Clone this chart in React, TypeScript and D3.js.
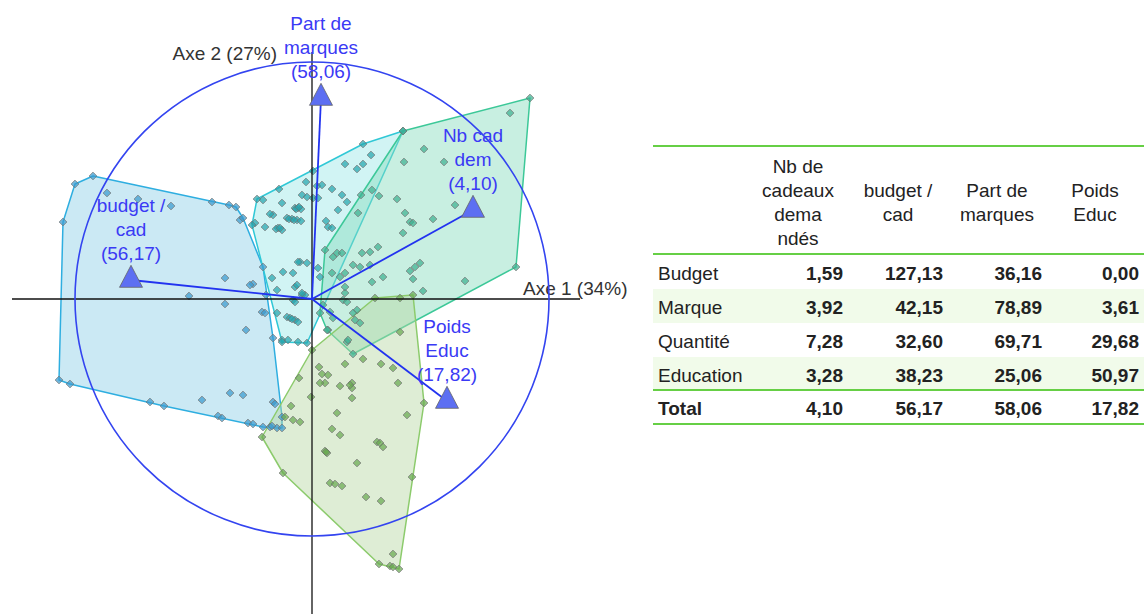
import React from "react";
import * as d3 from "d3";

type P = [number, number];

// Factor scores (unit = 1/23.7 of the correlation circle radius)
const budgetPts: P[] = [
  [-23.7, 11.5], [-21.9, 12.3], [-20.5, 10.6], [-17.4, 10.0], [-14.1, 9.3], [-10.0, 9.7],
  [-8.3, 9.4], [-7.6, 9.2], [-7.2, 7.9], [-6.9, 8.1], [-24.9, 7.7], [-4.9, 3.2], [-8.7, 2.1],
  [-5.9, 1.5], [-12.3, 0.3], [-8.7, -0.5], [-5.0, -1.3], [-4.7, -1.4], [-6.6, -3.1],
  [-3.9, -3.9], [-25.3, -8.1], [-24.2, -8.5], [-16.2, -10.3], [-14.8, -10.7], [-11.0, -10.1],
  [-8.2, -9.4], [-6.9, -9.6], [-9.4, -11.7], [-9.0, -11.9], [-6.4, -12.4], [-5.9, -12.5],
  [-4.9, -12.8], [-4.2, -12.8], [-3.5, -12.9], [-3.0, -12.9], [-3.9, -10.3], [-3.0, -11.8],
  [-4.6, 0.4], [-6.2, 1.4], [-3.7, -10.5], [-4.0, -12.7],
];

const marquePts: P[] = [
  [9.1, 16.8], [5.1, 15.5], [5.9, 14.4], [3.3, 13.5], [5.1, 13.5], [0.1, 12.8], [-0.6, 11.7],
  [-3.3, 11.0], [0.5, 11.3], [2.0, 11.0], [3.0, 10.4], [3.5, 9.7], [-5.5, 10.0], [-4.9, 9.9],
  [-3.0, 9.6], [-1.0, 10.4], [-0.5, 10.2], [0.1, 10.1], [0.6, 10.1], [-1.7, 9.1], [-1.4, 9.1],
  [-1.1, 9.0], [-3.9, 8.4], [-4.2, 8.5], [-2.5, 8.1], [-2.0, 8.0], [-1.5, 7.9], [-1.1, 7.8],
  [-5.7, 7.6], [-4.7, 7.2], [-3.4, 7.1], [-3.0, 6.9], [1.4, 7.8], [1.6, 7.2], [2.0, 7.1],
  [2.6, 8.9], [-6.0, 7.4], [1.0, 11.4], [-1.2, 3.7], [-0.5, 3.6], [-2.9, 2.7], [-1.9, 2.6],
  [-4.0, 2.1], [0.6, 3.1], [-3.5, 0.9], [-1.0, 0.4], [-0.7, 0.4], [-1.7, 1.2], [-1.4, 3.7],
  [-1.5, 1.4], [-1.0, 0.6], [-1.9, -0.1], [-3.5, -1.4], [-2.5, -1.8], [-2.2, -1.9],
  [-1.7, -2.1], [-1.4, -2.3], [-1.7, -0.3], [-3.0, -4.1], [-2.4, -4.1], [-1.4, -4.3],
  [-0.5, -4.4], [-3.0, -4.3], [0.8, 2.2], [4.5, 13.0], [-1.6, 9.0], [-1.3, 9.2],
  [-3.6, 7.0], [-3.2, 7.1], [-2.3, 8.0], [-1.8, 7.9], [-2.0, -2.0],
];

const quantitePts: P[] = [
  [9.1, 16.8], [21.8, 20.1], [19.8, 18.6], [11.2, 15.0], [13.2, 13.7], [9.2, 13.7], [6.7, 10.3],
  [8.5, 10.0], [14.3, 9.4], [4.9, 10.4], [4.6, 8.6], [9.3, 8.6], [9.8, 7.7], [10.1, 7.6],
  [12.1, 8.0], [6.6, 5.2], [5.8, 4.7], [5.0, 4.6], [9.1, 6.6], [10.8, 3.6], [10.3, 3.2],
  [9.8, 2.8], [10.1, 2.0], [11.1, 0.8], [7.1, 2.2], [6.0, 1.7], [15.3, 1.8], [20.4, 3.2],
  [4.8, 3.2], [4.1, 3.4], [3.3, 2.6], [2.0, 2.6], [1.3, 4.9], [2.1, 4.2], [2.5, 4.6],
  [3.0, 4.6], [5.8, 3.4], [3.3, 0.6], [6.0, 10.9], [2.8, 2.2], [3.3, 1.2], [3.1, -0.1],
  [3.5, -0.3], [1.1, -0.6], [4.5, -1.1], [1.8, -1.3], [2.1, -1.9], [1.6, -3.1], [4.3, -2.1],
  [4.8, -2.4], [3.5, -4.3], [4.1, -5.5], [1.5, -3.1], [0.8, -1.4], [4.1, -1.4], [3.6, -4.1],
];

const educationPts: P[] = [
  [6.3, 0.1], [8.8, 0.1], [10.1, 0.4], [8.8, -3.3], [5.1, -6.0], [3.3, -6.5], [6.9, -6.5],
  [8.1, -6.9], [0.7, -6.8], [1.0, -7.5], [1.6, -7.6], [1.3, -8.4], [0.8, -8.4], [-1.3, -7.9],
  [2.8, -8.7], [4.0, -8.4], [4.0, -8.9], [8.6, -8.4], [4.0, -9.9], [-0.1, -9.8], [11.2, -10.4],
  [-2.1, -10.7], [2.5, -11.4], [9.5, -11.6], [-2.7, -11.8], [-1.9, -12.1], [-1.2, -12.3],
  [2.0, -13.0], [2.8, -13.6], [6.5, -14.3], [6.8, -14.4], [7.1, -14.8], [1.3, -15.2],
  [1.5, -15.4], [-5.0, -13.8], [4.5, -16.4], [10.0, -17.8], [-2.9, -17.4], [1.8, -18.4],
  [2.3, -18.5], [3.0, -18.7], [5.4, -19.8], [6.9, -20.2], [8.1, -25.5], [6.7, -26.5],
  [7.8, -26.7], [8.1, -26.8], [8.7, -27.0], [0.0, -5.1], [3.8, -8.6], [1.4, -15.3],
];

// Variables (arrows)
const varLabels: string[][] = [
  ["Nb cad", "dem", "(4,10)"],
  ["budget /", "cad", "(56,17)"],
  ["Part de", "marques", "(58,06)"],
  ["Poids", "Educ", "(17,82)"],
];
const varX = [16.1, -18.1, 0.9, 13.5];
const varY = [8.9, 1.9, 20.1, -10.2];
const circleRadius = 23.7;

const axis1Label = "Axe 1 (34%)";
const axis2Label = "Axe 2 (27%)";

// Table
const groupNames = ["Budget", "Marque", "Quantité", "Education"];
const headerLines: string[][] = [
  ["Nb de", "cadeaux", "dema", "ndés"],
  ["budget /", "cad"],
  ["Part de", "marques"],
  ["Poids", "Educ"],
];
const nbCad = [1.59, 3.92, 7.28, 3.28];
const budgetCad = [127.13, 42.15, 32.6, 38.23];
const partMarques = [36.16, 78.89, 69.71, 25.06];
const poidsEduc = [0.0, 3.61, 29.68, 50.97];
const totals = [4.1, 56.17, 58.06, 17.82];

const FONT = "'Liberation Sans', Arial, sans-serif";
const fmt = (v: number) => d3.format(".2f")(v).replace(".", ",");

export default function App() {
  const W = 1144, H = 614;
  const x = d3.scaleLinear().domain([-30, 30]).range([12, 612]);
  const y = d3.scaleLinear().domain([-30, 30]).range([599, -1]);

  const groups = [
    { pts: budgetPts, fill: "#8ccfe6", stroke: "#2eaee0", dot: "#3a9bd0" },
    { pts: marquePts, fill: "#98e6e6", stroke: "#30c8d6", dot: "#26a6ae" },
    { pts: quantitePts, fill: "#86dcbc", stroke: "#3cc898", dot: "#3fb292" },
    { pts: educationPts, fill: "#b6d8a2", stroke: "#8ccb6c", dot: "#6aaa52" },
  ];

  const diamond = d3.symbol(d3.symbolSquare, 30)() as string;
  const tri = "M0,-14.7L11.5,7.3L-11.5,7.3Z";

  const cols = [nbCad, budgetCad, partMarques, poidsEduc];
  const colRight = [843, 943, 1042, 1139];
  const colCenter = [798, 898, 997, 1095];
  const rowBase = [280, 314, 348, 382];
  const lineGreen = "#66cf45";

  return (
    <svg width={W} height={H} style={{ position: "absolute", left: 0, top: 0, background: "#fff" }} fontFamily={FONT}>
      {/* hulls */}
      {groups.map((g, i) => {
        const hull = d3.polygonHull(g.pts.map((p) => [x(p[0]), y(p[1])] as [number, number]));
        return (
          <path key={"h" + i} d={"M" + (hull || []).join("L") + "Z"} fill={g.fill} fillOpacity={0.45}
            stroke={g.stroke} strokeWidth={1.5} strokeLinejoin="round" />
        );
      })}
      {/* points */}
      {groups.map((g, i) => (
        <g key={"p" + i}>
          {g.pts.map((p, j) => (
            <path key={j} d={diamond} transform={`translate(${x(p[0])},${y(p[1])}) rotate(45)`}
              fill={g.dot} fillOpacity={0.72} stroke="#707070" strokeOpacity={0.75} strokeWidth={0.9} />
          ))}
        </g>
      ))}
      {/* axes */}
      <line x1={x(-30)} x2={x(26.8)} y1={y(0)} y2={y(0)} stroke="#111" strokeWidth={1.3} />
      <line x1={x(0)} x2={x(0)} y1={y(24.7)} y2={y(-31.5)} stroke="#111" strokeWidth={1.3} />
      <text x={523} y={295} fontSize={19} fill="#333">{axis1Label}</text>
      <text x={277} y={60} fontSize={19} fill="#333" textAnchor="end">{axis2Label}</text>
      {/* correlation circle */}
      <circle cx={x(0)} cy={y(0)} r={x(circleRadius) - x(0)} fill="none" stroke="#3344f0" strokeWidth={1.6} />
      {/* arrows */}
      {varX.map((vx, i) => (
        <g key={"v" + i}>
          <line x1={x(0)} y1={y(0)} x2={x(vx)} y2={y(varY[i])} stroke="#2233f0" strokeWidth={1.8} />
          <path d={tri} transform={`translate(${x(vx)},${y(varY[i])})`} fill="#5d6ff2" stroke="#666" strokeWidth={0.8} />
          {varLabels[i].map((t, k) => (
            <text key={k} x={x(vx)} y={y(varY[i]) - 20 - (varLabels[i].length - 1 - k) * 24}
              fontSize={19} fill="#3a3af5" textAnchor="middle">{t}</text>
          ))}
        </g>
      ))}
      {/* table */}
      <rect x={653} y={289} width={491} height={34} fill="#f1fbea" />
      <rect x={653} y={357} width={491} height={33} fill="#f1fbea" />
      <line x1={653} x2={1144} y1={146} y2={146} stroke={lineGreen} strokeWidth={2} />
      <line x1={653} x2={1144} y1={254} y2={254} stroke={lineGreen} strokeWidth={2} />
      <line x1={653} x2={1144} y1={390} y2={390} stroke={lineGreen} strokeWidth={2} />
      <line x1={653} x2={1144} y1={424} y2={424} stroke={lineGreen} strokeWidth={2} />
      {headerLines.map((lines, c) =>
        lines.map((t, k) => (
          <text key={"hd" + c + k} x={colCenter[c]} y={209 + (k - (lines.length - 1) / 2) * 24}
            fontSize={19} fill="#222" textAnchor="middle">{t}</text>
        ))
      )}
      {groupNames.map((gname, r) => (
        <g key={"r" + r}>
          <text x={658} y={rowBase[r]} fontSize={19} fill="#222">{gname}</text>
          {cols.map((col, c) => (
            <text key={c} x={colRight[c]} y={rowBase[r]} fontSize={19} fontWeight="bold" fill="#222" textAnchor="end">
              {fmt(col[r])}
            </text>
          ))}
        </g>
      ))}
      <text x={658} y={415} fontSize={19} fontWeight="bold" fill="#222">Total</text>
      {totals.map((v, c) => (
        <text key={"t" + c} x={colRight[c]} y={415} fontSize={19} fontWeight="bold" fill="#222" textAnchor="end">{fmt(v)}</text>
      ))}
    </svg>
  );
}
